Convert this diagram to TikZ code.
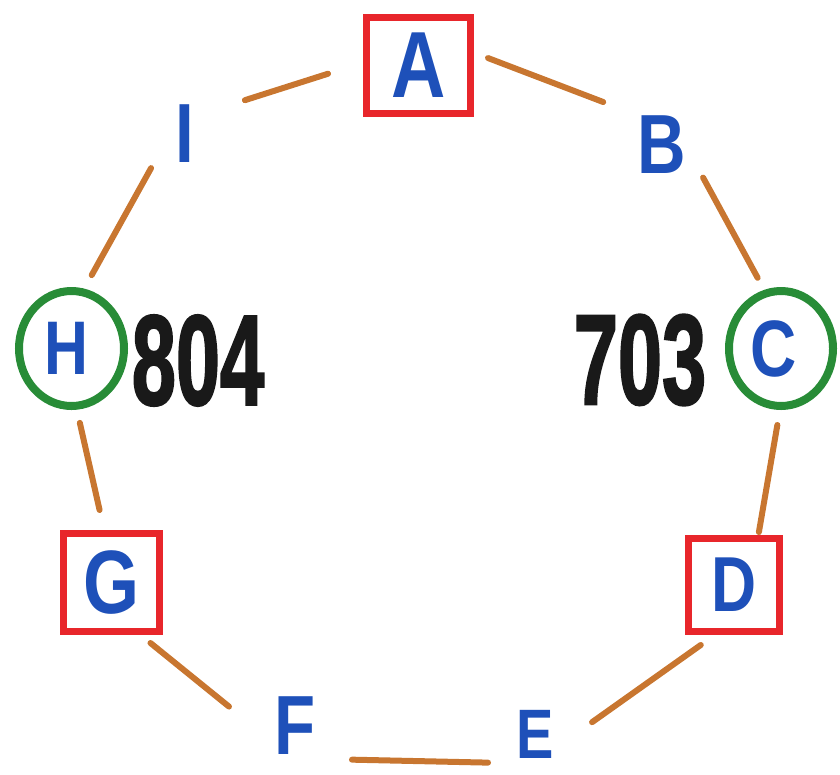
\documentclass[tikz,border=0pt]{standalone}
\usepackage{graphicx}
\usepackage{fontspec}
\setmainfont{Liberation Sans}
\newfontfamily\numfont{Liberation Sans}[BoldFeatures={FakeBold=2}]
\usetikzlibrary{shapes.geometric}
\definecolor{mred}{RGB}{232,38,43}
\definecolor{mgreen}{RGB}{40,140,55}
\definecolor{mblue}{RGB}{30,80,185}
\definecolor{mbrown}{RGB}{200,118,48}
\definecolor{mblack}{RGB}{25,25,25}
\newcommand{\lettr}[2][84]{\scalebox{0.8}[1]{\fontsize{#1}{#1}\selectfont\bfseries #2}}
\newcommand{\numtxt}[1]{\scalebox{0.62}[1]{\fontsize{128}{128}\selectfont\numfont\bfseries #1}}
\begin{document}
\begin{tikzpicture}[x=1pt,y=-1pt,
  boxnode/.style={draw=mred, line width=7pt, outer sep=3.5pt, rectangle, inner sep=0pt, text=mblue},
  ringnode/.style={draw=mgreen, line width=8pt, ellipse, inner sep=0pt, outer sep=4pt, text=mblue},
  letternode/.style={rectangle, inner sep=0pt, outer sep=0pt, minimum width=60pt, minimum height=60pt, text=mblue},
  edge/.style={draw=mbrown, line width=6pt, line cap=round},
  numlabel/.style={text=mblack, inner sep=0pt}]
\useasboundingbox (0,0) rectangle (840,774);
% nodes
\node[boxnode, minimum width=104pt, minimum height=96pt] (A) at (418.5,65.5) {\lettr[94]{A}};
\node[letternode] (B) at (662,144.5) {\lettr{B}};
\node[ringnode, minimum width=104pt, minimum height=115pt] (C) at (781,348.5) {\lettr[80]{C}\hspace*{15pt}};
\node[boxnode, minimum width=91pt, minimum height=93pt] (D) at (734,585) {\lettr[78]{D}};
\node[letternode] (E) at (535,743.5) {\raisebox{9.5pt}[\height][\depth]{\lettr[70]{E}}};
\node[letternode] (F) at (295.5,733) {\raisebox{7pt}[\height][\depth]{\lettr[84]{F}}};
\node[boxnode, minimum width=96pt, minimum height=98pt] (G) at (111.5,582.5) {\lettr[90]{G}};
\node[ringnode, minimum width=105pt, minimum height=115pt] (H) at (71.5,348.5) {\lettr[76]{H}\hspace*{11pt}};
\node[letternode] (I) at (185,134) {\lettr{I}};
\node[numlabel] (n804) at (198,360.5) {\numtxt{804}};
\node[numlabel] (n703) at (640,360) {\numtxt{703}};
% connectors
\draw[edge, shorten <=15.0pt, shorten >=35.0pt] (A.13.1) -- (B.131.2);
\draw[edge, shorten <=23.2pt, shorten >=13.7pt] (B.-23.6) -- (C.106.7);
\draw[edge, shorten <=15.2pt, shorten >=3.0pt] (C.-91.2) -- (D.64.8);
\draw[edge, shorten <=17.2pt, shorten >=33.2pt] (D.-111.8) -- (E.4.3);
\draw[edge, shorten <=17.0pt, shorten >=26.5pt] (E.213.6) -- (F.-41.3);
\draw[edge, shorten <=47.0pt, shorten >=12.7pt] (F.186.8) -- (G.-61.4);
\draw[edge, shorten <=20.5pt, shorten >=13.5pt] (G.98.6) -- (H.-85.8);
\draw[edge, shorten <=15.4pt, shorten >=8.1pt] (H.78.8) -- (I.222.9);
\draw[edge, shorten <=31.4pt, shorten >=36.7pt] (I.39.4) -- (A.177.5);
\end{tikzpicture}
\end{document}
